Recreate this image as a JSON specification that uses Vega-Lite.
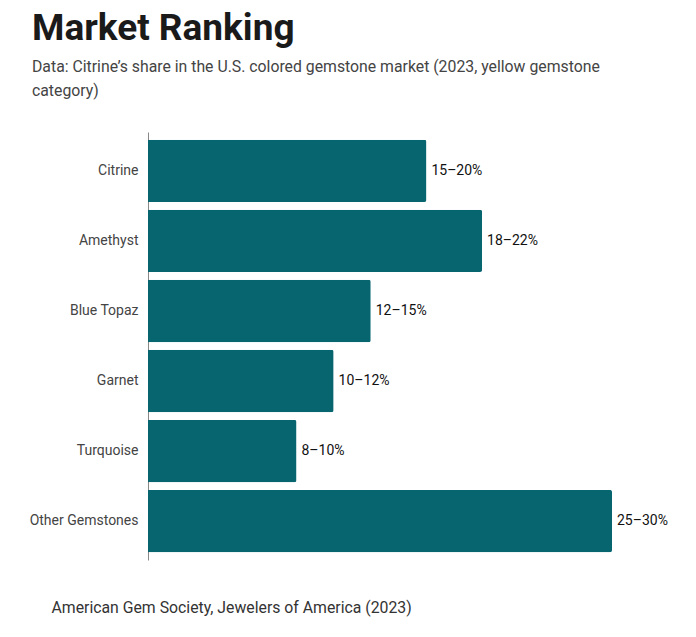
{
  "$schema": "https://vega.github.io/schema/vega-lite/v6.json",
  "width": 464,
  "height": 428,
  "autosize": {"type": "none"},
  "padding": {"left": 148, "top": 132, "right": 84, "bottom": 77},
  "background": "white",
  "title": {
    "text": "Market Ranking",
    "subtitle": ["Data: Citrine’s share in the U.S. colored gemstone market (2023, yellow gemstone", "category)"],
    "anchor": "start",
    "frame": "group",
    "dx": -116,
    "font": "Roboto",
    "fontSize": 37,
    "fontWeight": "bold",
    "color": "#1a1a1a",
    "subtitleFont": "Roboto",
    "subtitleFontSize": 15.8,
    "subtitleColor": "#444444",
    "subtitleLineHeight": 24,
    "subtitlePadding": 12,
    "offset": 32
  },
  "data": {
    "values": [
      {"gem": "Citrine", "share": 15, "label": "15–20%"},
      {"gem": "Amethyst", "share": 18, "label": "18–22%"},
      {"gem": "Blue Topaz", "share": 12, "label": "12–15%"},
      {"gem": "Garnet", "share": 10, "label": "10–12%"},
      {"gem": "Turquoise", "share": 8, "label": "8–10%"},
      {"gem": "Other Gemstones", "share": 25, "label": "25–30%"}
    ]
  },
  "encoding": {
    "y": {
      "field": "gem",
      "type": "nominal",
      "sort": null,
      "scale": {"paddingInner": 0.11, "paddingOuter": 0.11},
      "axis": {
        "title": null,
        "ticks": false,
        "labelPadding": 10,
        "labelFont": "Roboto",
        "labelFontSize": 14,
        "labelColor": "#444444",
        "domainColor": "#888888",
        "domainWidth": 1
      }
    },
    "x": {
      "field": "share",
      "type": "quantitative",
      "scale": {"domain": [0, 25], "nice": false},
      "axis": {
        "domain": false,
        "ticks": false,
        "labels": false,
        "grid": false,
        "title": "American Gem Society, Jewelers of America (2023)",
        "titleAnchor": "start",
        "titleAlign": "left",
        "titleX": -97,
        "titleY": 52,
        "titleBaseline": "alphabetic",
        "titleFont": "Roboto",
        "titleFontSize": 15.8,
        "titleFontWeight": "normal",
        "titleColor": "#333333"
      }
    }
  },
  "layer": [
    {
      "mark": {"type": "bar", "color": "#06656f", "cornerRadiusEnd": 2}
    },
    {
      "mark": {"type": "text", "align": "left", "dx": 5, "font": "Roboto", "fontSize": 14, "color": "#111111"},
      "encoding": {"text": {"field": "label"}}
    }
  ],
  "config": {"view": {"stroke": null}}
}
